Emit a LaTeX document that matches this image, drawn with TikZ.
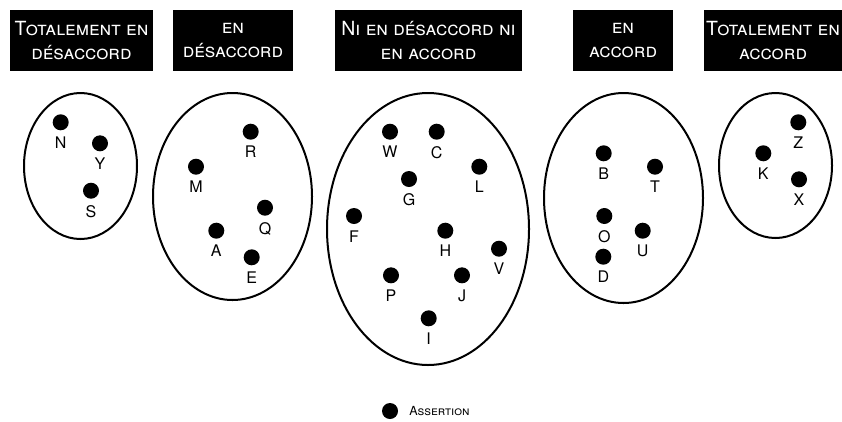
\documentclass[tikz,border=0pt]{standalone}
\usepackage{fontspec}
\setmainfont{TeX Gyre Heros}
\usetikzlibrary{positioning}
\tikzset{hdr/.style={fill=black, text=white, align=center,
         font=\fontsize{19.5}{24}\selectfont\scshape,
         minimum height=61pt, inner sep=0pt},
         grp/.style={line width=2pt},
         dot/.style={circle, fill=black, minimum size=16pt, inner sep=0pt},
         lbl/.style={font=\fontsize{16}{16}\selectfont, inner sep=0pt, label distance=6pt}}

\begin{document}
\begin{tikzpicture}[x=1pt, y=-1pt]
\useasboundingbox (0,0) rectangle (842,421);
\node[hdr, minimum width=143pt] (h1) at (81.5,40.5) {Totalement en\\désaccord};
\node[hdr, minimum width=120pt] (h2) at (233,40.5) {en\\désaccord};
\node[hdr, minimum width=187pt] (h3) at (428.5,40.5) {Ni en désaccord ni\\en accord};
\node[hdr, minimum width=100pt] (h4) at (623,40.5) {en\\accord};
\node[hdr, minimum width=138pt] (h5) at (773,40.5) {Totalement en\\accord};
\draw[grp] (80.5,166) ellipse [x radius=56.5, y radius=73];
\draw[grp] (232.5,196.5) ellipse [x radius=79.5, y radius=103.5];
\draw[grp] (428,229) ellipse [x radius=101, y radius=136];
\draw[grp] (623.5,198) ellipse [x radius=79.5, y radius=105];
\draw[grp] (775.5,165.5) ellipse [x radius=56.5, y radius=72.5];
% assertions
\foreach \n/\x/\y in {N/60.7/122.3, Y/100/143.3, S/91/190.7,
    R/250.7/131.7, M/196/166.7, Q/265/207.7, A/216.3/230.7, E/251.7/257.3,
    W/390/131.7, C/436.7/131.7, L/479.3/166.7, G/409/179, F/354/216,
    H/445.3/230.7, V/499/248.7, P/391/275.3, J/462/275.3, I/428.7/318.3,
    B/603.7/153.3, T/655/166.7, O/604.3/216, U/642.7/230.7, D/603.3/256.7,
    Z/798.3/122.3, K/763.3/153.3, X/799/179.3}
  \node[dot, label={[lbl]below:\n}] (\n) at (\x,\y) {};
% legend
\node[dot] (key) at (390,411) {};
\node[right=11pt of key, font=\fontsize{12.5}{12.5}\selectfont\scshape, inner sep=0pt] (keytext) {Assertion};
\end{tikzpicture}
\end{document}
